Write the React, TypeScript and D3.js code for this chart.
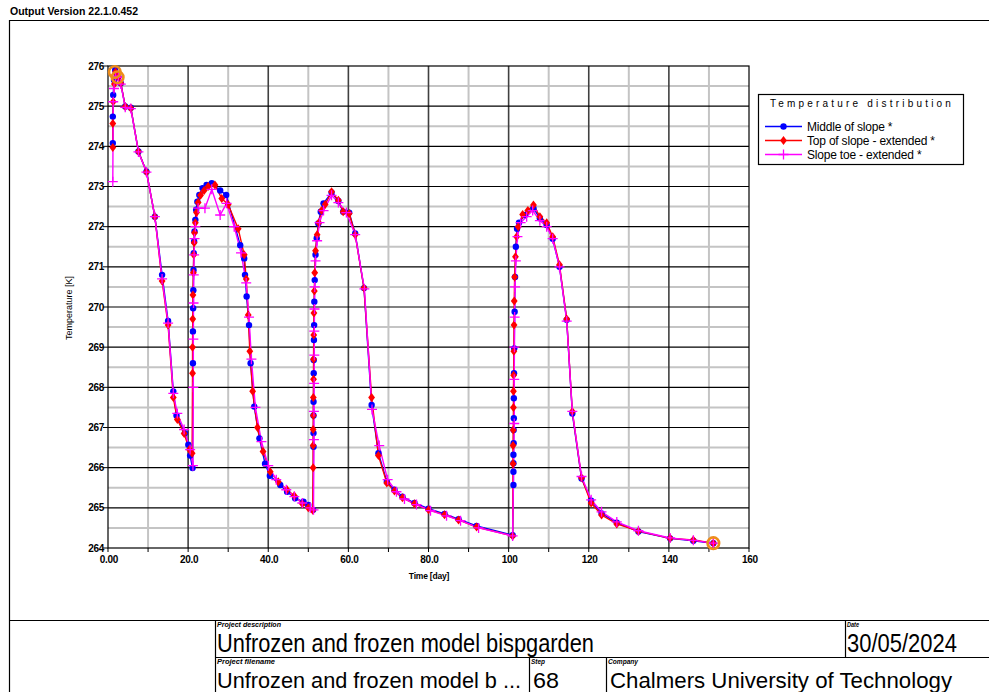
import React from "react";
import * as d3 from "d3";

const seriesNames = ["Middle of slope *", "Top of slope - extended *", "Slope toe - extended *"];
const seriesColors = ["#0000ff", "#ff0000", "#ff00ff"];

const middleOfSlope: [number, number][] = [
  [1.2, 274.08], [1.2, 274.74], [1.3, 275.28], [1.5, 275.65], [1.8, 275.9], [2.6, 275.73], [3.2, 275.57],
  [4.3, 274.99], [5.7, 274.96], [7.6, 273.87], [9.6, 273.37], [11.7, 272.25], [13.5, 270.8], [15, 269.65],
  [16.3, 267.9], [17.1, 267.3], [19.2, 266.86], [20.05, 266.57], [20.5, 266.3], [21.1, 265.99],
  [21.2, 268.6], [21.2, 269.39], [21.25, 269.97], [21.3, 270.42], [21.35, 270.92], [21.4, 271.34], [21.5, 271.63],
  [21.6, 271.88], [21.8, 272.17], [22.0, 272.42], [22.3, 272.62], [22.8, 272.79], [23.6, 272.96], [24.6, 273.04],
  [25.9, 273.08], [28, 272.9], [29.5, 272.79], [33, 271.54], [34, 271.21], [34.2, 270.8], [34.6, 270.26],
  [35.2, 269.55], [35.6, 268.6], [36.5, 267.52], [37.8, 266.73], [39.2, 266.1], [40.4, 265.8], [43, 265.57],
  [44.7, 265.4], [46.7, 265.24], [48.8, 265.15], [50, 265.07], [51.2, 264.95],
  [51.3, 266.52], [51.3, 266.86], [51.3, 267.3], [51.3, 267.64], [51.35, 268.35], [51.35, 268.68], [51.4, 269.18],
  [51.45, 269.55], [51.5, 270.13], [51.6, 270.67], [51.8, 271.3], [52.1, 271.71], [52.5, 272.08], [53.1, 272.37],
  [53.8, 272.58], [55.8, 272.85], [57.5, 272.64], [58.7, 272.37], [60.2, 272.35], [61.7, 271.83], [63.9, 270.47],
  [65.8, 267.56], [67.5, 266.36], [69.6, 265.65], [71.5, 265.45], [73.5, 265.28], [76.5, 265.12], [80, 264.98],
  [84, 264.85], [87.5, 264.72], [92, 264.55], [101, 264.32],
  [101.2, 265.57], [101.2, 265.9], [101.2, 266.11], [101.2, 266.32], [101.25, 266.61], [101.25, 266.94],
  [101.3, 267.23], [101.3, 267.73], [101.35, 268.35], [101.4, 268.97], [101.5, 269.88], [101.6, 270.75],
  [101.8, 271.5], [102.1, 271.95], [102.6, 272.1], [104.1, 272.29], [106.2, 272.46], [107.8, 272.21],
  [109.5, 272.04], [111, 271.7], [112.7, 271.0], [114.5, 269.68], [115.9, 267.35], [118.2, 265.73],
  [120.6, 265.18], [123.2, 264.86], [127, 264.63], [132.4, 264.41], [140.3, 264.24], [146.1, 264.18], [151.1, 264.12],
];

const topOfSlope: [number, number][] = [
  [1.2, 273.97], [1.2, 274.57], [1.3, 275.11], [1.6, 275.55], [1.9, 275.85], [2.6, 275.72], [3.2, 275.57],
  [4.3, 274.99], [5.7, 274.95], [7.6, 273.87], [9.6, 273.36], [11.7, 272.25], [13.5, 270.65], [15, 269.55],
  [16.3, 267.75], [17.3, 267.2], [19.0, 266.85], [20.3, 266.45], [21.0, 266.36],
  [21.1, 268.35], [21.1, 269.0], [21.15, 269.7], [21.2, 270.3], [21.3, 270.85], [21.4, 271.3], [21.5, 271.6],
  [21.6, 271.85], [21.8, 272.1], [22.1, 272.35], [22.5, 272.6], [23.1, 272.78], [24.0, 272.9], [25.0, 273.0],
  [26.7, 273.04], [28.4, 272.7], [30, 272.55], [32.5, 271.95], [34, 271.3], [34.5, 270.7], [35, 269.8],
  [35.4, 268.9], [36.1, 267.9], [37.3, 267.0], [38.7, 266.4], [40.5, 265.9], [42.5, 265.65], [44.7, 265.45],
  [46.5, 265.3], [48.5, 265.1], [50, 265.0], [51.1, 264.94],
  [51.2, 266.0], [51.2, 266.55], [51.2, 266.95], [51.25, 267.3], [51.25, 267.75], [51.3, 268.2], [51.3, 268.7],
  [51.35, 269.3], [51.4, 269.85], [51.5, 270.4], [51.6, 270.85], [51.8, 271.4], [52.2, 271.8], [52.6, 272.1],
  [53.3, 272.4], [54.2, 272.55], [55.8, 272.87], [57.5, 272.66], [58.7, 272.37], [60.2, 272.33], [61.7, 271.8],
  [63.9, 270.47], [65.8, 267.75], [67.5, 266.3], [69.6, 265.62], [71.5, 265.42], [73.5, 265.25], [76.5, 265.1],
  [80, 264.95], [84, 264.83], [87.5, 264.7], [92, 264.52], [101, 264.3],
  [101.1, 266.1], [101.1, 266.55], [101.15, 266.94], [101.2, 267.5], [101.2, 267.9], [101.25, 268.3],
  [101.3, 268.9], [101.35, 269.55], [101.4, 270.15], [101.5, 270.75], [101.7, 271.25], [102.0, 271.75],
  [102.4, 272.0], [103.5, 272.3], [104.8, 272.4], [106.2, 272.54], [107.8, 272.25], [109.5, 272.1], [111, 271.75],
  [112.7, 271.05], [114.5, 269.7], [115.9, 267.4], [118.2, 265.75], [120.6, 265.12], [123.2, 264.82],
  [127, 264.6], [132.4, 264.42], [140.3, 264.24], [146.1, 264.2], [151.1, 264.12],
];

const slopeToe: [number, number][] = [
  [1.2, 273.12], [1.3, 275.11], [1.5, 275.44], [1.9, 275.75], [2.6, 275.72], [3.2, 275.55], [4.3, 274.97],
  [5.7, 274.94], [7.6, 273.86], [9.6, 273.36], [11.7, 272.25], [13.5, 270.7], [15, 269.6], [16.3, 267.85],
  [17.3, 267.35], [19, 266.95], [20.5, 266.45], [21.2, 266.05],
  [21.3, 268.0], [21.3, 269.2], [21.35, 270.1], [21.4, 270.8], [21.5, 271.3], [21.6, 271.7], [21.8, 272.0],
  [22.5, 272.46], [24.2, 272.46], [25.9, 272.93], [28, 272.29], [29.6, 272.58], [31.5, 272.0], [33.2, 271.35],
  [34.5, 270.6], [35.2, 269.75], [35.8, 268.7], [36.8, 267.5], [38.3, 266.65], [40, 266.05], [42, 265.7],
  [44.5, 265.45], [46.5, 265.28], [48.5, 265.12], [50.5, 265.0], [51.3, 264.95],
  [51.4, 266.7], [51.4, 267.4], [51.45, 268.1], [51.5, 268.8], [51.5, 269.4], [51.55, 269.95], [51.6, 270.5],
  [51.8, 271.15], [52.2, 271.65], [52.8, 272.1], [53.8, 272.4], [55.8, 272.78], [57.5, 272.6], [59.5, 272.35],
  [61.7, 271.8], [64, 270.45], [65.9, 267.45], [67.7, 266.55], [69.8, 265.7], [72, 265.4], [74, 265.22],
  [77, 265.08], [80.5, 264.93], [84.5, 264.8], [88, 264.68], [92.5, 264.5], [101, 264.3],
  [101.4, 267.1], [101.4, 268.2], [101.45, 269.0], [101.5, 269.75], [101.6, 270.5], [101.8, 271.15],
  [102.2, 271.75], [103, 272.1], [104.5, 272.25], [106, 272.4], [107.8, 272.15], [109.5, 272.0], [111, 271.7],
  [112.7, 271.0], [114.5, 269.65], [115.9, 267.4], [118.2, 265.78], [120.6, 265.2], [123.2, 264.9],
  [127, 264.65], [132.4, 264.43], [140.3, 264.25], [146.1, 264.19], [151.1, 264.12],
];

const highlightPoints: [number, number][] = [[1.7, 275.85], [2.4, 275.72], [151.1, 264.12]];

const xMajorTicks = [0, 20, 40, 60, 80, 100, 120, 140, 160];
const xTickLabels = ["0.00", "20.0", "40.0", "60.0", "80.0", "100", "120", "140", "160"];
const xMinorTicks = [10, 30, 50, 70, 90, 110, 130, 150];
const yMajorTicks = [264, 265, 266, 267, 268, 269, 270, 271, 272, 273, 274, 275, 276];
const yMinorTicks = [264.5, 265.5, 266.5, 267.5, 268.5, 269.5, 270.5, 271.5, 272.5, 273.5, 274.5, 275.5];

const FONT = "'Liberation Sans', Arial, sans-serif";

export default function App() {
  const x = d3.scaleLinear().domain([0, 160]).range([108, 749]);
  const y = d3.scaleLinear().domain([264, 276]).range([548, 66]);
  const line = d3.line<[number, number]>().x((d) => x(d[0])).y((d) => y(d[1]));
  const data = [middleOfSlope, topOfSlope, slopeToe];

  const marker = (i: number, cx: number, cy: number, key: string) => {
    if (i === 0) return <circle key={key} cx={cx} cy={cy} r={3.2} fill={seriesColors[0]} />;
    if (i === 1)
      return (
        <path key={key} d={`M${cx},${cy - 4.5}L${cx + 3.4},${cy}L${cx},${cy + 4.5}L${cx - 3.4},${cy}Z`} fill={seriesColors[1]} />
      );
    return (
      <path key={key} d={`M${cx - 5},${cy}H${cx + 5}M${cx},${cy - 5}V${cy + 5}`} stroke={seriesColors[2]} strokeWidth={1.3} fill="none" />
    );
  };

  const legendY = [126.5, 140.5, 154.5];

  return (
    <svg width={989} height={692} style={{ position: "absolute", left: 0, top: 0, background: "#fff" }} fontFamily={FONT}>
      <rect x={0} y={0} width={989} height={692} fill="#fff" />
      <text x={10} y={15} fontSize={11} fontWeight="bold" textLength={128} lengthAdjust="spacingAndGlyphs">
        Output Version 22.1.0.452
      </text>
      {/* outer frame */}
      <path d="M9.5,692V20.5H989" stroke="#000" strokeWidth={1.2} fill="none" />
      <line x1={9} x2={989} y1={620.5} y2={620.5} stroke="#000" strokeWidth={1.2} />

      {/* grid */}
      {xMinorTicks.map((t) => (
        <line key={"xm" + t} x1={x(t)} x2={x(t)} y1={66} y2={548} stroke="#c4c4c4" strokeWidth={2} />
      ))}
      {yMinorTicks.map((t) => (
        <line key={"ym" + t} x1={108} x2={749} y1={y(t)} y2={y(t)} stroke="#c4c4c4" strokeWidth={2} />
      ))}
      {xMajorTicks.slice(1, -1).map((t) => (
        <line key={"xM" + t} x1={x(t)} x2={x(t)} y1={66} y2={548} stroke="#404040" strokeWidth={1.6} />
      ))}
      {yMajorTicks.slice(1, -1).map((t) => (
        <line key={"yM" + t} x1={108} x2={749} y1={y(t)} y2={y(t)} stroke="#000" strokeWidth={1.1} />
      ))}
      <rect x={108} y={66} width={641} height={482} fill="none" stroke="#000" strokeWidth={1.2} />

      {/* ticks */}
      {yMajorTicks.map((t) => (
        <g key={"yt" + t}>
          <line x1={103} x2={108} y1={y(t)} y2={y(t)} stroke="#000" strokeWidth={1} />
          <text x={104} y={y(t) + 3.5} fontSize={10} fontWeight="bold" textAnchor="end" letterSpacing={-0.3}>
            {t}
          </text>
        </g>
      ))}
      {[...xMajorTicks, ...xMinorTicks].map((t) => (
        <line key={"xt" + t} x1={x(t)} x2={x(t)} y1={548} y2={552} stroke="#000" strokeWidth={1} />
      ))}
      {xMajorTicks.map((t, i) => (
        <text key={"xl" + t} x={x(t) + 1} y={562.5} fontSize={10} fontWeight="bold" textAnchor="middle" letterSpacing={-0.3}>
          {xTickLabels[i]}
        </text>
      ))}
      <text x={429} y={578.5} fontSize={8.5} fontWeight="bold" textAnchor="middle" letterSpacing={-0.2}>
        Time [day]
      </text>
      <text transform="translate(72,308) rotate(-90)" fontSize={9} textAnchor="middle">
        Temperature [K]
      </text>

      {/* series */}
      {data.map((s, i) => (
        <path key={"l" + i} d={line(s) || ""} fill="none" stroke={seriesColors[i]} strokeWidth={1.4} />
      ))}
      {data.map((s, i) => (
        <g key={"m" + i}>{s.map((d, j) => marker(i, x(d[0]), y(d[1]), i + "-" + j))}</g>
      ))}
      {highlightPoints.map((d, i) => (
        <circle key={"h" + i} cx={x(d[0])} cy={y(d[1])} r={5.8} fill="none" stroke="#ee8c1a" strokeWidth={2.6} />
      ))}

      {/* legend */}
      <rect x={758.5} y={94.5} width={205} height={70} fill="#fff" stroke="#000" strokeWidth={1.2} />
      <text x={770} y={107} fontSize={10} letterSpacing={3.2}>
        Temperature distribution
      </text>
      {seriesNames.map((n, i) => (
        <g key={"lg" + i}>
          <line x1={765} x2={802} y1={legendY[i]} y2={legendY[i]} stroke={seriesColors[i]} strokeWidth={1.4} />
          {marker(i, 783.5, legendY[i], "lm" + i)}
          <text x={807} y={legendY[i] + 4.5} fontSize={12} letterSpacing={-0.2}>
            {n}
          </text>
        </g>
      ))}

      {/* title block */}
      <line x1={215.5} x2={215.5} y1={620} y2={692} stroke="#000" strokeWidth={1.2} />
      <line x1={215} x2={989} y1={657.5} y2={657.5} stroke="#000" strokeWidth={1.2} />
      <line x1={845.5} x2={845.5} y1={620} y2={657} stroke="#000" strokeWidth={1.2} />
      <line x1={529.5} x2={529.5} y1={657} y2={692} stroke="#000" strokeWidth={1.2} />
      <line x1={606.5} x2={606.5} y1={657} y2={692} stroke="#000" strokeWidth={1.2} />

      <text x={217} y={627} fontSize={7.5} fontStyle="italic" fontWeight="bold" textLength={64} lengthAdjust="spacingAndGlyphs">
        Project description
      </text>
      <text x={217} y={652} fontSize={25} textLength={377} lengthAdjust="spacingAndGlyphs">
        Unfrozen and frozen model bispgarden
      </text>
      <text x={847} y={627} fontSize={7.5} fontStyle="italic" fontWeight="bold" textLength={12} lengthAdjust="spacingAndGlyphs">
        Date
      </text>
      <text x={847} y={652} fontSize={25} textLength={110} lengthAdjust="spacingAndGlyphs">
        30/05/2024
      </text>
      <text x={217} y={664} fontSize={7.5} fontStyle="italic" fontWeight="bold" textLength={58} lengthAdjust="spacingAndGlyphs">
        Project filename
      </text>
      <text x={217} y={688} fontSize={22} textLength={304} lengthAdjust="spacingAndGlyphs">
        Unfrozen and frozen model b ...
      </text>
      <text x={531} y={664} fontSize={7.5} fontStyle="italic" fontWeight="bold" textLength={14} lengthAdjust="spacingAndGlyphs">
        Step
      </text>
      <text x={533} y={688} fontSize={22} textLength={26} lengthAdjust="spacingAndGlyphs">
        68
      </text>
      <text x={608} y={664} fontSize={7.5} fontStyle="italic" fontWeight="bold" textLength={30} lengthAdjust="spacingAndGlyphs">
        Company
      </text>
      <text x={610} y={688} fontSize={22} textLength={342} lengthAdjust="spacingAndGlyphs">
        Chalmers University of Technology
      </text>
    </svg>
  );
}
